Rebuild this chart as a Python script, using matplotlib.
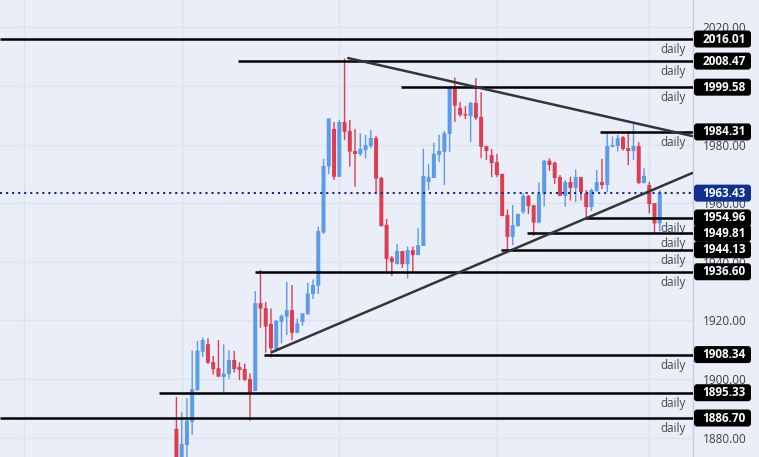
import matplotlib
matplotlib.use("Agg")
import matplotlib.pyplot as plt
from matplotlib.patches import FancyBboxPatch
from matplotlib.transforms import IdentityTransform

# daily candles, prices
opens = [1883.0, 1870.0, 1877.5, 1885.4, 1896.2, 1909.3, 1911.9, 1905.8, 1903.7, 1900.7,
         1901.7, 1906.5, 1904.1, 1903.4, 1900.0, 1895.9, 1925.9, 1924.2, 1918.8, 1910.1,
         1919.5, 1921.3, 1923.5, 1915.8, 1919.5, 1922.2, 1929.0, 1931.8, 1950.0, 1972.5,
         1985.3, 1969.0, 1987.7, 1984.6, 1977.8, 1976.8, 1978.1, 1979.5, 1982.2, 1968.6,
         1952.6, 1941.4, 1939.2, 1943.7, 1939.2, 1944.0, 1942.3, 1945.4, 1967.2, 1968.6,
         1976.4, 1977.5, 1983.6, 1999.5, 1992.5, 1990.4, 1989.7, 1994.2, 1989.4, 1979.5,
         1976.4, 1974.0, 1970.0, 1956.0, 1948.5, 1952.2, 1957.0, 1962.5, 1959.3, 1953.4,
         1963.1, 1974.5, 1973.8, 1968.9, 1962.5, 1967.2, 1965.2, 1968.9, 1963.4, 1958.7,
         1964.2, 1967.2, 1966.2, 1979.2, 1979.5, 1982.5, 1978.8, 1977.8, 1979.5, 1966.9,
         1966.2, 1960.0, 1953.1]
highs = [1893.9, 1888.6, 1893.4, 1909.7, 1913.0, 1914.2, 1913.9, 1907.9, 1913.3, 1911.8,
         1909.9, 1909.6, 1905.7, 1905.3, 1901.9, 1930.0, 1937.2, 1926.3, 1924.1, 1920.1,
         1922.1, 1933.1, 1932.1, 1920.7, 1922.4, 1932.9, 1934.0, 1952.0, 1975.1, 1988.9,
         1987.7, 1988.4, 2009.4, 1988.4, 1985.3, 1983.8, 1983.3, 1985.0, 1982.9, 1969.0,
         1954.6, 1942.0, 1946.1, 1943.7, 1945.2, 1945.2, 1951.5, 1978.6, 1973.4, 1980.6,
         1983.3, 1984.6, 1999.7, 2002.9, 1994.6, 1993.1, 1994.6, 2002.7, 1997.9, 1979.5,
         1978.5, 1976.8, 1970.0, 1957.9, 1959.4, 1956.5, 1963.4, 1962.8, 1959.4, 1967.1,
         1974.7, 1975.3, 1974.2, 1969.6, 1967.9, 1969.0, 1971.5, 1969.0, 1964.5, 1965.0,
         1971.3, 1975.1, 1984.3, 1982.7, 1983.3, 1982.9, 1984.3, 1987.0, 1980.8, 1971.9,
         1967.3, 1960.0, 1964.5]
lows = [1865.0, 1868.0, 1872.0, 1881.0, 1896.0, 1907.6, 1905.1, 1901.6, 1900.8, 1895.3,
        1900.1, 1902.2, 1899.7, 1899.4, 1885.8, 1895.9, 1917.5, 1909.0, 1907.4, 1909.3,
        1912.2, 1915.0, 1913.3, 1915.6, 1918.2, 1921.8, 1927.3, 1929.0, 1949.5, 1969.9,
        1967.9, 1969.0, 1981.6, 1972.5, 1965.6, 1976.1, 1975.2, 1978.7, 1963.1, 1952.0,
        1936.6, 1935.2, 1939.2, 1937.9, 1934.3, 1936.6, 1942.3, 1945.4, 1964.5, 1968.6,
        1974.0, 1966.2, 1977.5, 1987.7, 1989.5, 1988.7, 1980.9, 1988.4, 1975.4, 1974.7,
        1968.9, 1968.9, 1955.6, 1944.0, 1945.7, 1952.0, 1956.3, 1956.3, 1948.8, 1953.1,
        1958.8, 1971.0, 1966.5, 1962.5, 1958.8, 1960.9, 1960.4, 1960.9, 1955.2, 1957.3,
        1963.8, 1964.8, 1963.8, 1979.1, 1977.6, 1977.9, 1973.0, 1974.7, 1966.5, 1966.8,
        1956.5, 1949.7, 1950.3]
closes = [1868.0, 1877.8, 1885.8, 1896.6, 1909.7, 1913.3, 1905.6, 1903.4, 1900.8, 1901.9,
          1906.5, 1903.4, 1903.1, 1899.7, 1895.4, 1925.9, 1924.0, 1917.9, 1910.5, 1919.9,
          1921.5, 1923.5, 1915.8, 1919.0, 1922.4, 1929.2, 1932.1, 1950.5, 1972.7, 1988.9,
          1969.0, 1987.7, 1984.4, 1977.6, 1976.8, 1978.5, 1979.8, 1982.2, 1968.4, 1952.2,
          1941.0, 1939.9, 1943.7, 1939.2, 1944.0, 1942.3, 1945.7, 1969.3, 1968.9, 1976.8,
          1977.8, 1983.9, 1999.5, 1993.3, 1990.1, 1989.9, 1994.2, 1989.1, 1979.2, 1977.8,
          1973.7, 1969.6, 1955.6, 1948.5, 1952.5, 1956.3, 1962.5, 1959.0, 1953.4, 1963.1,
          1974.5, 1973.0, 1968.6, 1962.5, 1967.2, 1965.2, 1968.9, 1963.8, 1958.7, 1964.5,
          1967.2, 1966.2, 1979.5, 1979.8, 1982.2, 1978.5, 1977.8, 1979.5, 1966.9, 1969.3,
          1959.7, 1953.1, 1963.4]

# horizontal levels and the candle index where each one starts
levels = [2016.01, 2008.47, 1999.58, 1984.31, 1954.96, 1949.81, 1944.13, 1936.60, 1908.34, 1895.33, 1886.70]
level_starts = [-33.6, 11.75, 42.8, 80.7, 77.8, 66.8, 61.7, 15.0, 16.7, -3.3, -33.6]
last_price = 1963.43

# trend lines (index, price)
falling_x = [32.7, 98.2]
falling_y = [2009.5, 1982.9]
rising_x = [18.2, 98.2]
rising_y = [1909.2, 1970.3]

price_ticks = [2020, 2000, 1980, 1960, 1940, 1920, 1900, 1880]
month_grid = [-29, 1, 31, 61, 90]

BG = "#e9eef9"
GRID = "#dde2ef"
UP = "#5b9be9"
DOWN = "#e03c50"
FONT = "Open Sans"

fig = plt.figure(figsize=(7.59, 4.57), dpi=100, facecolor=BG)
ax = fig.add_axes([0, 0, 692.5 / 759, 1], facecolor=BG)
ax.set_xlim(-33.58, 98.23)
ax.set_ylim(1873.4, 2029.32)

# grid
ax.set_xticks(month_grid)
ax.set_yticks(price_ticks)
ax.set_yticklabels(["%.2f" % p for p in price_ticks], fontsize=8.5, color="#3c4048", family=FONT)
ax.yaxis.tick_right()
ax.tick_params(axis="both", length=0, pad=7.5)
ax.tick_params(axis="x", labelbottom=False)
ax.grid(True, color=GRID, linewidth=1)
ax.set_axisbelow(True)
for name, sp in ax.spines.items():
    sp.set_visible(name == "right")
ax.spines["right"].set_color("#c5ccdc")
ax.spines["right"].set_linewidth(1)

# candles
for i in range(len(opens)):
    color = UP if closes[i] >= opens[i] else DOWN
    wick = ax.vlines(i, lows[i], highs[i], color=color, linewidth=1.0, zorder=3)
    wick.set_snap(False)
    bars = ax.bar(i, abs(closes[i] - opens[i]), bottom=min(opens[i], closes[i]), width=0.76,
                  color=color, zorder=3)
    bars[0].set_snap(False)

# levels
for lvl, start in zip(levels, level_starts):
    ax.hlines(lvl, start, 98.23, color="black", linewidth=1.8, zorder=4)
    ax.annotate("daily", (673, lvl), xycoords=("figure pixels", "data"), xytext=(0, -10.5),
                textcoords="offset pixels", ha="center", va="center", fontsize=8.4,
                color="#45484f", family=FONT, zorder=3.5)

ax.plot(falling_x, falling_y, color="#333538", linewidth=1.8, zorder=5, solid_capstyle="round")
ax.plot(rising_x, rising_y, color="#333538", linewidth=1.8, zorder=5, solid_capstyle="round")
ax.hlines(last_price, -33.58, 98.23, color="#10298a", linewidth=1.5, linestyles=(0, (1, 1.9)), zorder=5)


def price_label(price, color):
    ypx = ax.transData.transform((0, price))[1]
    box = FancyBboxPatch((694, ypx - 8.5), 57, 17, boxstyle="round,pad=0,rounding_size=3",
                         transform=IdentityTransform(), facecolor=color, edgecolor="none",
                         clip_on=False, zorder=8)
    ax.add_patch(box)
    ax.annotate("%.2f" % price, (724, ypx), xycoords="figure pixels", ha="center", va="center",
                fontsize=8.5, fontweight="bold", color="white", family=FONT, zorder=9,
                annotation_clip=False)


for lvl in levels:
    price_label(lvl, "black")
price_label(last_price, "#0f2f91")

fig.savefig("out.png", dpi=100, facecolor=BG)
